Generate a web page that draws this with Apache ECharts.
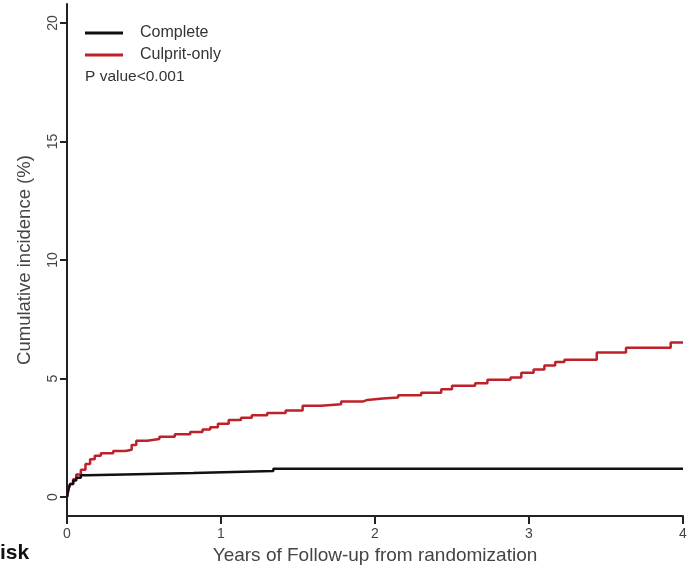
<!DOCTYPE html>
<html>
<head>
<meta charset="utf-8">
<script src="https://cdn.jsdelivr.net/npm/echarts@6/dist/echarts.min.js"></script>
<style>html,body{margin:0;padding:0;background:#fff}#c{width:692px;height:570px}</style>
</head>
<body>
<div id="c"></div>
<script>
// Step-function data: [years, cumulative incidence %]
const completeT = [0, 0.01, 0.02, 0.04, 0.06, 0.09, 0.13, 0.45, 0.82, 1.34, 4.0];
const completeV = [0, 0.35, 0.55, 0.7, 0.82, 0.92, 0.97, 1.02, 1.1, 1.2, 1.2];

const culpritT = [0, 0.01, 0.02, 0.04, 0.06, 0.09, 0.12, 0.15, 0.18, 0.22, 0.3, 0.38, 0.42, 0.45, 0.52, 0.6, 0.7, 0.8, 0.88, 0.93, 0.98, 1.05, 1.13, 1.2, 1.3, 1.42, 1.53, 1.65, 1.78, 1.92, 1.95, 2.05, 2.15, 2.3, 2.43, 2.5, 2.65, 2.73, 2.88, 2.95, 3.03, 3.1, 3.17, 3.23, 3.44, 3.63, 3.92, 4.0];
const culpritV = [0, 0.35, 0.55, 0.75, 0.95, 1.15, 1.4, 1.6, 1.75, 1.85, 1.95, 2.0, 2.2, 2.38, 2.45, 2.55, 2.65, 2.75, 2.85, 2.95, 3.1, 3.25, 3.35, 3.45, 3.55, 3.65, 3.85, 3.92, 4.03, 4.1, 4.16, 4.2, 4.3, 4.4, 4.55, 4.7, 4.8, 4.95, 5.05, 5.25, 5.38, 5.55, 5.7, 5.8, 6.1, 6.3, 6.52, 6.52];

const xTicks = [0, 1, 2, 3, 4];
const yTicks = [0, 5, 10, 15, 20];
const seriesNames = ['Complete', 'Culprit-only'];

const pair = (t, v) => t.map((x, i) => [x, v[i]]);
const font = 'Liberation Sans, Arial, sans-serif';
const axisCol = '#222';

const chart = echarts.init(document.getElementById('c'), null, {renderer: 'canvas'});
chart.setOption({
  animation: false,
  backgroundColor: '#fff',
  grid: {left: 67, right: 9, top: 4, bottom: 52, containLabel: false},
  legend: {
    orient: 'vertical', left: 80, top: 20, itemWidth: 38, itemHeight: 3, itemGap: 6,
    data: seriesNames.map(n => ({name: n, icon: 'rect'})),
    textStyle: {fontFamily: font, fontSize: 16, color: '#333', padding: [0, 0, 0, 12]}
  },
  graphic: [
    {type: 'text', left: 85, top: 69, style: {text: 'P value<0.001', font: '15.5px ' + font, fill: '#333'}},
    {type: 'text', left: 0, top: 543, style: {text: 'isk', font: 'bold 21px ' + font, fill: '#111'}}
  ],
  xAxis: {
    type: 'value', min: 0, max: 4, interval: 1,
    name: 'Years of Follow-up from randomization', nameLocation: 'middle', nameGap: 27,
    nameTextStyle: {fontFamily: font, fontSize: 19, color: '#444'},
    axisLine: {show: true, onZero: false, lineStyle: {color: axisCol, width: 2}},
    axisTick: {show: true, length: 8, inside: false, lineStyle: {color: axisCol, width: 2}},
    axisLabel: {fontFamily: font, fontSize: 14, color: '#444', margin: 11, customValues: xTicks},
    splitLine: {show: false}
  },
  yAxis: {
    type: 'value', min: -0.8, max: 20.8,
    name: 'Cumulative incidence (%)', nameLocation: 'middle', nameGap: 33, nameRotate: 90,
    nameTextStyle: {fontFamily: font, fontSize: 18.5, color: '#444'},
    axisLine: {show: true, onZero: false, lineStyle: {color: axisCol, width: 2}},
    axisTick: {show: true, length: 7, customValues: yTicks, lineStyle: {color: axisCol, width: 2}},
    axisLabel: {fontFamily: font, fontSize: 14, color: '#444', rotate: 90, margin: 7, customValues: yTicks},
    splitLine: {show: false}
  },
  series: [
    {name: seriesNames[0], type: 'line', step: 'end', symbol: 'none', data: pair(completeT, completeV),
     lineStyle: {color: '#111', width: 2.5}, itemStyle: {color: '#111'}, z: 3},
    {name: seriesNames[1], type: 'line', step: 'end', symbol: 'none', data: pair(culpritT, culpritV),
     lineStyle: {color: '#bd2129', width: 2.5}, itemStyle: {color: '#bd2129'}, z: 2}
  ]
});
</script>
</body>
</html>
